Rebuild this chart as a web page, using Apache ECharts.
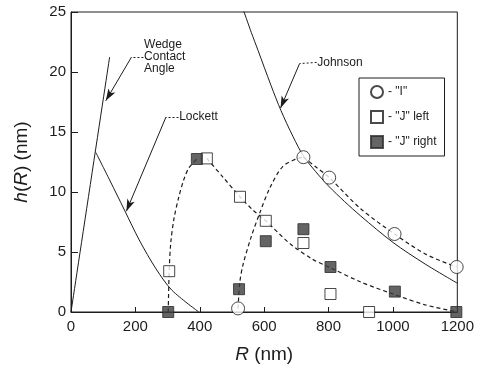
<!DOCTYPE html>
<html><head><meta charset="utf-8">
<script src="https://cdn.jsdelivr.net/npm/echarts@6/dist/echarts.min.js"></script>
<style>html,body{margin:0;padding:0;background:#fff}#c{width:477px;height:373px}</style>
</head><body><div id="c"></div>
<script>
// ---- data (R in nm, h in nm) ----
const wedge = [[0, 0], [120, 21.25]];
const lockett = [[77, 13.3], [120, 11.0], [166, 8.5], [212, 6.0], [264, 3.6], [314, 1.8], [397, 0]];
const johnson = [[535, 25.2], [560, 23.3], [581, 21.8], [621, 18.9], [652, 16.8], [690, 14.6], [722, 13.0],
                 [760, 11.7], [800, 10.5], [850, 9.2], [900, 8.0], [1000, 5.8], [1100, 4.0], [1200, 2.4]];
const iRiseFit = [[519, 0.3], [524, 2.4], [534, 3.9], [559, 6.2], [587, 8.3], [617, 10.3], [657, 12.1], [703, 12.8], [722, 12.9]];
const iFallFit = [[722, 12.9], [760, 12.1], [802, 11.2], [900, 8.6], [1005, 6.5], [1103, 4.8], [1198, 3.75]];
const jRiseFit = [[302, 0], [305, 3.4], [310, 5.8], [320, 7.8], [335, 9.6], [350, 11.0], [366, 12.0], [391, 12.75]];
const jFallFit = [[422, 12.8], [470, 11.3], [525, 9.6], [565, 8.5], [605, 7.6], [680, 5.7], [750, 4.4],
                  [805, 3.7], [900, 2.5], [1000, 1.5], [1100, 0.6], [1200, 0]];
const pointsI = [[519, 0.3], [722, 12.9], [802, 11.2], [1005, 6.5], [1198, 3.75]];
const pointsJLeft = [[305, 3.4], [422, 12.8], [525, 9.6], [605, 7.6], [722, 5.75], [806, 1.5], [926, 0]];
const pointsJRight = [[302, 0], [391, 12.75], [522, 1.9], [605, 5.9], [722, 6.9], [806, 3.75], [1006, 1.7], [1197, 0]];
const seriesNames = ['- "I"', '- "J" left', '- "J" right'];
const labelWedge = 'Wedge\nContact\nAngle';
const labelLockett = 'Lockett';
const labelJohnson = 'Johnson';

// ---- styling ----
const ink = '#1c1c1c';
const font = '"Liberation Sans", Arial, sans-serif';
const chart = echarts.init(document.getElementById('c'), null, {renderer: 'canvas'});

function curve(data, dashed) {
  return {
    type: 'line', data: data, smooth: 0.3, symbol: 'none', silent: true, z: 2,
    lineStyle: {color: ink, width: dashed ? 1.2 : 1, type: dashed ? [4, 3] : 'solid'}
  };
}
function annot(textStr, at, leader, arrow) {
  return {
    markPoint: {
      silent: true, symbol: 'circle', symbolSize: 0,
      label: {show: true, position: 'right', distance: 0, formatter: textStr, color: ink,
              fontFamily: font, fontSize: 12, lineHeight: 12, align: 'left'},
      data: [{coord: at}]
    },
    markLine: {
      silent: true, animation: false, symbol: ['none', 'none'],
      label: {show: false},
      lineStyle: {color: ink, width: 1, type: 'solid'},
      data: [
        [{coord: leader[0], lineStyle: {type: [2, 2], color: ink, width: 1}}, {coord: leader[1]}],
        [{coord: arrow[0], symbol: 'none'}, {coord: arrow[1], symbol: 'arrow', symbolSize: [6, 12]}]
      ]
    }
  };
}

const wedgeSeries = Object.assign(curve(wedge, false),
  annot(labelWedge, [227, 21.25], [[225, 21.25], [188, 21.25]], [[188, 21.25], [108, 17.6]]));
const lockettSeries = Object.assign(curve(lockett, false),
  annot(labelLockett, [336, 16.25], [[334, 16.25], [295, 16.25]], [[295, 16.25], [172, 8.4]]));
const johnsonSeries = Object.assign(curve(johnson, false),
  annot(labelJohnson, [765, 20.8], [[763, 20.8], [710, 20.7]], [[710, 20.7], [651, 17.0]]));

const option = {
  animation: false,
  textStyle: {fontFamily: font, color: ink},
  grid: {left: 71, right: 15, top: 12, bottom: 61, show: true, borderColor: ink, borderWidth: 1, backgroundColor: 'transparent'},
  xAxis: {
    type: 'value', min: 0, max: 1200, interval: 200,
    axisLine: {lineStyle: {color: ink, width: 1}},
    axisTick: {inside: true, length: 5, lineStyle: {color: ink}},
    axisLabel: {margin: 7, fontSize: 15, color: ink, fontFamily: font, formatter: v => String(v)},
    splitLine: {show: false},
    name: '{i|R} (nm)', nameLocation: 'middle', nameGap: 33,
    nameTextStyle: {fontSize: 19, color: ink, fontFamily: font,
      rich: {i: {fontStyle: 'italic', fontSize: 19, color: ink, fontFamily: font}}}
  },
  yAxis: {
    type: 'value', min: 0, max: 25, interval: 5,
    axisLine: {lineStyle: {color: ink, width: 1}},
    axisTick: {inside: true, length: 7, lineStyle: {color: ink}},
    axisLabel: {margin: 5, fontSize: 15, color: ink, fontFamily: font, formatter: v => String(v)},
    splitLine: {show: false},
    name: '{i|h}({i|R}) (nm)', nameLocation: 'middle', nameGap: 40,
    nameTextStyle: {fontSize: 19, color: ink, fontFamily: font,
      rich: {i: {fontStyle: 'italic', fontSize: 19, color: ink, fontFamily: font}}}
  },
  legend: {
    data: seriesNames, orient: 'vertical', left: 359, top: 78,
    padding: [7, 8, 7, 11], itemGap: 11, itemWidth: 12, itemHeight: 12,
    borderColor: ink, borderWidth: 1, backgroundColor: '#fff',
    textStyle: {fontSize: 12, color: ink, fontFamily: font},
    selectedMode: false
  },
  series: [
    wedgeSeries, lockettSeries, johnsonSeries,
    curve(iRiseFit, true), curve(iFallFit, true), curve(jRiseFit, true), curve(jFallFit, true),
    {type: 'scatter', name: seriesNames[0], data: pointsI, symbol: 'circle', symbolSize: 13, z: 5,
     itemStyle: {color: '#fff', borderColor: ink, borderWidth: 1}},
    {type: 'scatter', name: seriesNames[1], data: pointsJLeft, symbol: 'rect', symbolSize: 11, z: 5,
     itemStyle: {color: '#fff', borderColor: ink, borderWidth: 1}},
    {type: 'scatter', name: seriesNames[2], data: pointsJRight, symbol: 'rect', symbolSize: 11, z: 6,
     itemStyle: {color: '#3d3d3d', borderColor: '#2a2a2a', borderWidth: 1}}
  ]
};
chart.setOption(option);
</script>
</body></html>
